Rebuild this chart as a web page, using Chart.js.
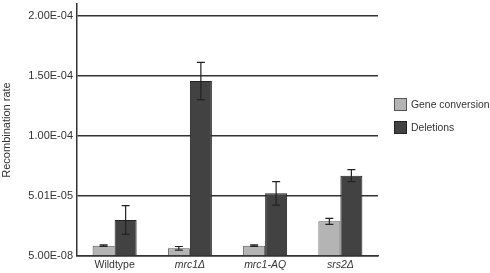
<!DOCTYPE html>
<html><head><meta charset="utf-8">
<script src="https://cdn.jsdelivr.net/npm/chart.js@4.4.0/dist/chart.umd.min.js"></script>
<style>html,body{margin:0;padding:0;background:#fff}#wrap{width:490px;height:273px}</style>
</head><body><div id="wrap"><canvas id="c" width="490" height="273"></canvas></div>
<script>
const categories = ['Wildtype', 'mrc1\u0394', 'mrc1-AQ', 'srs2\u0394'];
const italicCats = [false, true, true, true];
const geneConversion = [8.6e-6, 6.4e-6, 8.6e-6, 2.89e-5];
const geneConversionErr = [0.6e-6, 1.5e-6, 0.6e-6, 2.5e-6];
const deletions = [3.0e-5, 1.458e-4, 5.22e-5, 6.69e-5];
const deletionsErr = [1.2e-5, 1.55e-5, 9.8e-6, 5.0e-6];
const tickValues = [0, 5e-5, 1e-4, 1.5e-4, 2e-4];
const tickLabels = ['5.00E-08', '5.01E-05', '1.00E-04', '1.50E-04', '2.00E-04'];
const seriesNames = ['Gene conversion', 'Deletions'];
const FONT = 'Liberation Sans, Arial, sans-serif';

const errorBars = {
  id: 'errorBars',
  afterDatasetsDraw(chart) {
    const ctx = chart.ctx, y = chart.scales.y;
    const errs = [geneConversionErr, deletionsErr];
    ctx.save();
    ctx.strokeStyle = '#222';
    ctx.lineWidth = 1.2;
    chart.data.datasets.forEach((ds, di) => {
      const meta = chart.getDatasetMeta(di);
      meta.data.forEach((bar, i) => {
        const v = ds.data[i], e = errs[di][i];
        const x = bar.x, yt = y.getPixelForValue(v + e), yb = y.getPixelForValue(v - e);
        ctx.beginPath();
        ctx.moveTo(x, yt); ctx.lineTo(x, yb);
        ctx.moveTo(x - 4, yt); ctx.lineTo(x + 4, yt);
        ctx.moveTo(x - 4, yb); ctx.lineTo(x + 4, yb);
        ctx.stroke();
      });
    });
    ctx.restore();
  }
};

const sideLegend = {
  id: 'sideLegend',
  afterDraw(chart) {
    const ctx = chart.ctx, a = chart.chartArea;
    ctx.save();
    ctx.font = '10.4px ' + FONT;
    ctx.textBaseline = 'middle';
    chart.data.datasets.forEach((ds, i) => {
      const x = a.right + 16, yy = 98 + i * 23;
      ctx.fillStyle = ds.backgroundColor;
      ctx.fillRect(x, yy, 13, 13);
      ctx.strokeStyle = ds.borderColor; ctx.lineWidth = 1;
      ctx.strokeRect(x + 0.5, yy + 0.5, 12, 12);
      ctx.fillStyle = '#333';
      ctx.fillText(ds.label, x + 17, yy + 7);
    });
    ctx.restore();
  }
};

new Chart(document.getElementById('c'), {
  type: 'bar',
  data: {
    labels: categories,
    datasets: [
      { label: seriesNames[0], data: geneConversion, backgroundColor: '#b4b4b4', borderColor: '#555', borderWidth: 1 },
      { label: seriesNames[1], data: deletions, backgroundColor: '#424242', borderColor: '#222', borderWidth: 1 }
    ]
  },
  options: {
    responsive: false,
    animation: false,
    layout: { padding: { top: 4, right: 112, left: 0, bottom: 0 } },
    datasets: { bar: { barPercentage: 1.0, categoryPercentage: 0.585 } },
    plugins: { legend: { display: false }, tooltip: { enabled: false } },
    scales: {
      x: {
        grid: { display: false, drawTicks: false },
        border: { display: true, color: '#333', width: 1.5 },
        ticks: {
          color: '#333', padding: 3,
          font: (c) => ({ family: FONT, size: 10.5, style: italicCats[c.index] ? 'italic' : 'normal' })
        },
        afterFit(s) { s.height = 17; s.paddingLeft = 0; s.paddingRight = 0; }
      },
      y: {
        min: 0, max: 2.1e-4,
        afterBuildTicks(s) { s.ticks = tickValues.map(v => ({ value: v })); },
        grid: { color: '#333', lineWidth: 1.5, drawTicks: false },
        border: { display: true, color: '#333', width: 1.5 },
        ticks: {
          color: '#333', padding: 4,
          font: { family: FONT, size: 11 },
          callback: (v, i) => tickLabels[i]
        },
        title: { display: true, text: 'Recombination rate', color: '#333', font: { family: FONT, size: 11 }, padding: 0 },
        afterFit(s) { s.width = 77; s.paddingTop = 0; s.paddingBottom = 0; }
      }
    }
  },
  plugins: [errorBars, sideLegend]
});
</script></body></html>
